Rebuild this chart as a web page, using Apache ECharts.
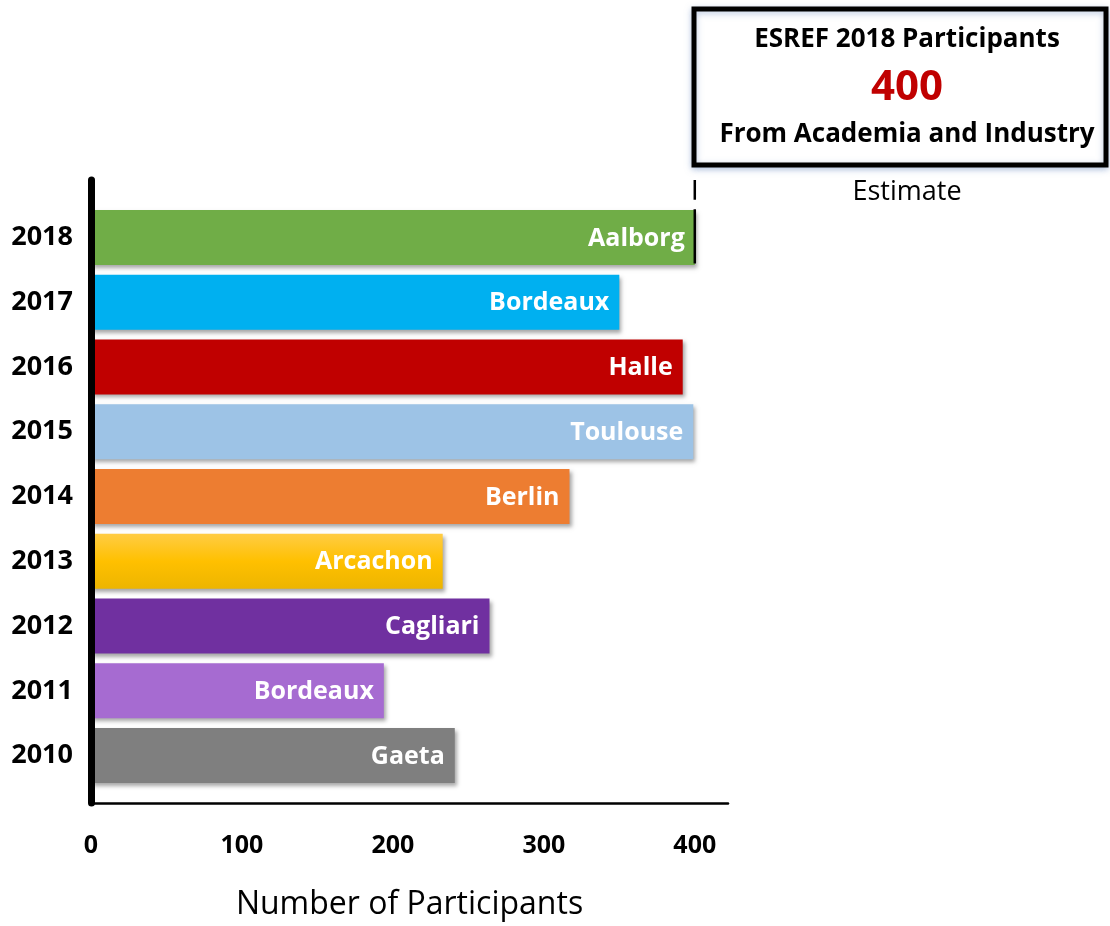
<!DOCTYPE html>
<html>
<head>
<meta charset="utf-8">
<script src="https://cdn.jsdelivr.net/npm/echarts@6/dist/echarts.min.js"></script>
<style>
html,body{margin:0;padding:0;background:#fff;}
#chart{width:1110px;height:926px;}
</style>
</head>
<body>
<div id="chart"></div>
<script>
// Data
const years = ['2010','2011','2012','2013','2014','2015','2016','2017','2018'];
const participants = [241, 194, 264, 233, 317, 399, 392, 350, 400];
const cities = ['Gaeta','Bordeaux','Cagliari','Arcachon','Berlin','Toulouse','Halle','Bordeaux','Aalborg'];
const xTicks = [0, 100, 200, 300, 400];
const estimateValue = 400;
const boxLines = ['ESREF 2018 Participants', '400', 'From Academia and Industry'];
const estimateLabel = 'Estimate';
const xAxisName = 'Number of Participants';

const barColors = [
  '#7F7F7F', '#A66BD1', '#7030A0',
  {type:'linear',x:0,y:0,x2:0,y2:1,colorStops:[{offset:0,color:'#FFCC44'},{offset:0.5,color:'#FFC000'},{offset:1,color:'#EDB500'}]},
  '#ED7D31', '#9DC3E6', '#C00000', '#00B0F0', '#70AD47'
];

const FONT = '"Open Sans", "Noto Sans", sans-serif';
const XMAX = 422;

const chart = echarts.init(document.getElementById('chart'), null, {renderer:'canvas'});
const option = {
  backgroundColor: '#ffffff',
  animation: false,
  grid: [
    {left: 91, right: 382, top: 180, bottom: 114, containLabel: false},
    {left: 91, right: 382, top: 205, bottom: 138, containLabel: false}
  ],
  xAxis: [
    {
      gridIndex: 0, type: 'value', min: 0, max: XMAX, interval: 100,
      axisLine: {show: true, onZero: false, lineStyle: {color: '#000', width: 2.5}},
      axisTick: {show: false},
      splitLine: {show: false},
      axisLabel: {
        margin: 30, color: '#000', fontFamily: FONT, fontWeight: 'bold', fontSize: 25,
        formatter: v => xTicks.indexOf(v) >= 0 ? String(v) : ''
      },
      name: xAxisName, nameLocation: 'middle', nameGap: 86,
      nameTextStyle: {color: '#000', fontFamily: FONT, fontSize: 32},
      z: 3
    },
    {
      gridIndex: 1, type: 'value', min: 0, max: XMAX, show: false
    }
  ],
  yAxis: [
    {
      gridIndex: 0, type: 'value', min: -0.88, max: 8.88,
      axisLine: {show: true, onZero: false, lineStyle: {color: '#000', width: 7}},
      axisTick: {show: false}, axisLabel: {show: false}, splitLine: {show: false},
      z: 3
    },
    {
      gridIndex: 1, type: 'category', data: years,
      axisLine: {show: false}, axisTick: {show: false},
      axisLabel: {margin: 18, color: '#000', fontFamily: FONT, fontWeight: 'bold', fontSize: 27}
    }
  ],
  series: [
    {
      type: 'bar', xAxisIndex: 1, yAxisIndex: 1,
      barWidth: 55,
      data: participants.map((v, i) => ({
        value: v,
        itemStyle: {color: barColors[i]},
        label: {formatter: cities[i]}
      })),
      itemStyle: {shadowColor: 'rgba(0,0,0,0.35)', shadowBlur: 4, shadowOffsetX: 2, shadowOffsetY: 3},
      label: {
        show: true, position: 'insideRight', distance: 10, offset: [0, 1],
        color: '#fff', fontFamily: FONT, fontWeight: 'bold', fontSize: 25
      },
      z: 2
    },
    {
      type: 'line', xAxisIndex: 0, yAxisIndex: 0,
      data: [[estimateValue, 8.88], [estimateValue, 8.57], '-', [estimateValue, 8.42], [estimateValue, 7.57]],
      connectNulls: false,
      symbol: 'none',
      lineStyle: {color: '#000', width: 2.5},
      z: 5, silent: true
    }
  ],
  graphic: [
    {
      type: 'rect', shape: {x: 694, y: 9, width: 412, height: 156},
      style: {fill: '#fff', stroke: '#000', lineWidth: 5, shadowColor: 'rgba(120,150,200,0.5)', shadowBlur: 6, shadowOffsetY: 2},
      z: 10
    },
    {
      type: 'text', x: 907, y: 40, z: 11,
      style: {text: boxLines[0], fontFamily: FONT, fontWeight: 'bold', fontSize: 26, fill: '#000', align: 'center', verticalAlign: 'middle'}
    },
    {
      type: 'text', x: 907, y: 88, z: 11,
      style: {text: boxLines[1], fontFamily: FONT, fontWeight: 'bold', fontSize: 42, fill: '#C00000', align: 'center', verticalAlign: 'middle'}
    },
    {
      type: 'text', x: 907, y: 135, z: 11,
      style: {text: boxLines[2], fontFamily: FONT, fontWeight: 'bold', fontSize: 26, fill: '#000', align: 'center', verticalAlign: 'middle'}
    },
    {
      type: 'text', x: 907, y: 192, z: 11,
      style: {text: estimateLabel, fontFamily: FONT, fontSize: 27, fill: '#000', align: 'center', verticalAlign: 'middle'}
    }
  ]
};
chart.setOption(option);
</script>
</body>
</html>
